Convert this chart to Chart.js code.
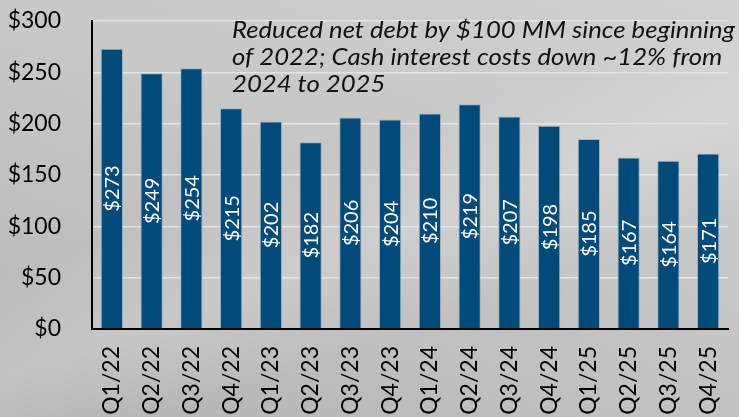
<!DOCTYPE html>
<html>
<head>
<meta charset="utf-8">
<script src="https://cdn.jsdelivr.net/npm/chart.js@4.4.0/dist/chart.umd.min.js"></script>
<style>
  html, body { margin: 0; padding: 0; }
  body {
    width: 739px; height: 417px; overflow: hidden;
    background:
      linear-gradient(160deg, rgba(255,255,255,0) 40%, rgba(255,255,255,0.18) 55%, rgba(255,255,255,0) 70%),
      linear-gradient(200deg, #d0d0d0 0%, #c7c7c7 45%, #bdbdbd 75%, #b3b3b3 100%);
  }
  #wrap { position: relative; width: 739px; height: 417px; }
</style>
</head>
<body>
<div id="wrap"><canvas id="debtChart" width="739" height="417"></canvas></div>
<script>
const quarters = ['Q1/22', 'Q2/22', 'Q3/22', 'Q4/22', 'Q1/23', 'Q2/23', 'Q3/23', 'Q4/23',
                  'Q1/24', 'Q2/24', 'Q3/24', 'Q4/24', 'Q1/25', 'Q2/25', 'Q3/25', 'Q4/25'];
const netDebt = [273, 249, 254, 215, 202, 182, 206, 204, 210, 219, 207, 198, 185, 167, 164, 171];
const noteLines = [
  'Reduced net debt by $100 MM since beginning',
  'of 2022; Cash interest costs down ~12% from',
  '2024 to 2025'
];

const barLabels = {
  id: 'barLabels',
  afterDatasetsDraw(chart) {
    const ctx = chart.ctx;
    const meta = chart.getDatasetMeta(0);
    ctx.save();
    ctx.font = '20px Lato';
    ctx.fillStyle = '#ffffff';
    ctx.textAlign = 'center';
    ctx.textBaseline = 'middle';
    meta.data.forEach((bar, i) => {
      const cy = (bar.y + bar.base) / 2;
      ctx.save();
      ctx.translate(bar.x, cy);
      ctx.rotate(-Math.PI / 2);
      ctx.fillText('$' + netDebt[i], 0, 1);
      ctx.restore();
    });
    ctx.restore();
  }
};

// italic note, stretched a bit wider to match the original's text run
const note = {
  id: 'note',
  afterDraw(chart) {
    const ctx = chart.ctx;
    ctx.save();
    ctx.font = 'italic 23px Lato';
    ctx.fillStyle = '#111111';
    ctx.textBaseline = 'alphabetic';
    const sx = 503 / ctx.measureText(noteLines[0]).width;
    noteLines.forEach((line, i) => {
      ctx.save();
      ctx.translate(232, 38 + i * 27);
      ctx.scale(sx, 1);
      ctx.fillText(line, 0, 0);
      ctx.restore();
    });
    ctx.restore();
  }
};

const ctx = document.getElementById('debtChart').getContext('2d');
const debtChart = new Chart(ctx, {
  type: 'bar',
  data: {
    labels: quarters,
    datasets: [{
      data: netDebt,
      backgroundColor: '#024a7a',
      borderColor: 'rgba(120,160,190,0.6)',
      borderWidth: 1,
      barPercentage: 0.56,
      categoryPercentage: 1
    }]
  },
  options: {
    responsive: false,
    animation: false,
    layout: { padding: { top: 21, right: 11, left: 0, bottom: 0 } },
    plugins: {
      legend: { display: false },
      tooltip: { enabled: false }
    },
    scales: {
      x: {
        grid: { display: false, drawTicks: false },
        border: { display: true, color: '#000000', width: 2 },
        ticks: {
          color: '#000000',
          font: { family: 'Lato', size: 23 },
          minRotation: 90,
          maxRotation: 90,
          padding: 17,
          autoSkip: false
        },
        afterFit(scale) {
          scale.height = 88;
          scale.paddingTop = 0;
          scale.paddingBottom = 0;
          scale.paddingLeft = 0;
          scale.paddingRight = 0;
        }
      },
      y: {
        min: 0,
        max: 300,
        grid: { color: 'rgba(235,235,235,0.8)', lineWidth: 1.5, drawTicks: false },
        border: { display: true, color: '#000000', width: 2 },
        ticks: {
          stepSize: 50,
          color: '#000000',
          font: { family: 'Lato', size: 23 },
          padding: 31,
          callback: v => '$' + v
        },
        afterFit(scale) {
          scale.width = 92;
          scale.paddingTop = 0;
          scale.paddingBottom = 0;
        }
      }
    }
  },
  plugins: [barLabels, note]
});
</script>
</body>
</html>
